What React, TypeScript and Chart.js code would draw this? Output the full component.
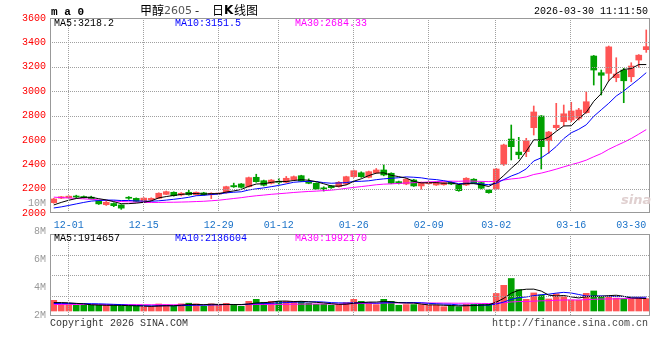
import React, { useEffect, useRef } from "react";
import { Chart, registerables } from "chart.js";

Chart.register(...registerables);

// ---------------- data ----------------
const dates = [
  "11-27","11-28","12-01","12-02","12-03","12-04","12-05","12-08","12-09","12-10",
  "12-11","12-12","12-15","12-16","12-17","12-18","12-19","12-22","12-23","12-24",
  "12-25","12-26","12-29","12-30","12-31","01-05","01-06","01-07","01-08","01-09",
  "01-12","01-13","01-14","01-15","01-16","01-19","01-20","01-21","01-22","01-23",
  "01-26","01-27","01-28","01-29","01-30","02-02","02-03","02-04","02-05","02-06",
  "02-09","02-10","02-11","02-12","02-13","02-24","02-25","02-26","02-27","03-02",
  "03-03","03-04","03-05","03-06","03-09","03-10","03-11","03-12","03-13","03-16",
  "03-17","03-18","03-19","03-20","03-23","03-24","03-25","03-26","03-27","03-30",
];

const opens = [
  2085,2122,2125,2133,2135,2130,2100,2068,2078,2066,
  2123,2120,2095,2107,2121,2153,2170,2148,2170,2150,
  2165,2150,2156,2167,2225,2238,2216,2293,2265,2244,
  2258,2252,2271,2306,2257,2244,2202,2221,2216,2238,
  2298,2330,2293,2330,2353,2326,2257,2238,2271,2222,
  2240,2230,2232,2250,2230,2230,2277,2249,2189,2197,
  2400,2607,2500,2503,2700,2796,2593,2700,2749,2763,
  2777,2823,3288,3151,3146,3110,3173,3118,3255,3340,
];
const highs = [
  2120,2136,2141,2146,2140,2138,2104,2095,2084,2068,
  2135,2124,2126,2125,2166,2180,2174,2168,2187,2173,
  2170,2166,2165,2220,2245,2242,2295,2318,2270,2275,
  2285,2300,2304,2310,2280,2248,2215,2226,2258,2302,
  2352,2338,2344,2365,2394,2330,2262,2282,2276,2254,
  2256,2254,2254,2256,2235,2290,2282,2254,2194,2366,
  2565,2722,2621,2613,2878,2800,2670,2900,2886,2908,
  2859,2995,3293,3173,3370,3274,3187,3233,3300,3502,
];
const lows = [
  2080,2118,2122,2126,2122,2114,2070,2062,2052,2030,
  2112,2092,2090,2102,2118,2150,2138,2140,2146,2146,
  2146,2118,2150,2162,2210,2205,2212,2252,2222,2238,
  2235,2248,2265,2258,2240,2192,2180,2202,2212,2232,
  2292,2292,2288,2325,2305,2240,2238,2232,2218,2195,
  2236,2226,2228,2233,2178,2225,2244,2198,2162,2192,
  2390,2435,2445,2462,2640,2361,2490,2681,2714,2749,
  2763,2818,3050,2968,3085,3077,2905,3077,3192,3318,
];
const closes = [
  2115,2133,2138,2131,2125,2118,2075,2088,2060,2040,
  2121,2095,2122,2120,2162,2175,2142,2162,2150,2170,
  2150,2162,2162,2216,2215,2211,2290,2257,2228,2270,
  2252,2285,2298,2262,2244,2197,2198,2208,2252,2298,
  2347,2298,2339,2353,2312,2244,2244,2277,2222,2249,
  2250,2249,2249,2238,2183,2285,2249,2203,2167,2361,
  2558,2544,2478,2593,2829,2544,2664,2720,2814,2837,
  2845,2913,3173,3130,3363,3140,3085,3206,3295,3365,
];
// closes of the 29 sessions before the first visible one (feed the moving averages)
const prevCloses = [
  2245,2238,2230,2236,2222,2215,2209,2200,2195,2188,2180,
  2168,2160,2148,2135,2126,2118,2105,2092,2080,
  2042,2020,2005,2003,2010,
  2030,2048,2062,2076,
];

const volumes = [
  1646000,1080000,1050000,877000,870000,880000,885000,860000,875000,800000,
  720000,725000,650000,655000,1080000,940000,720000,1100000,1200000,1100000,
  720000,1100000,950000,1180000,1030000,720000,1490000,1800000,1340000,1490000,
  1480000,1500000,1470000,1490000,1180000,1030000,1030000,880000,985000,1290000,
  1800000,1490000,1290000,985000,1800000,1490000,880000,985000,985000,985000,
  880000,880000,660000,815000,660000,1030000,1030000,1030000,1030000,2700000,
  3950000,5000000,3300000,1800000,2780000,2460000,1850000,2655000,2200000,1689060,
  1650000,2720000,3080000,2170000,2172755,1980120,1900455,1800310,2000140,1892260,
];
const prevVolumes = [
  880000,950000,900000,860000,920000,970000,930000,890000,960000,910000,
  940000,880000,990000,920000,900000,950000,930000,910000,970000,900000,
  950000,1050000,980000,1020000,1000000,
  1100000,1250000,1300000,1204000,
];

const priceTicks = [2000, 2200, 2400, 2600, 2800, 3000, 3200, 3400, 3600];
const xTickLabels = ["12-01","12-15","12-29","01-12","01-26","02-09","03-02","03-16","03-30"];
const volTickValues = [2000000, 4000000, 6000000, 8000000, 10000000];
const volTickLabels = ["2M", "4M", "6M", "8M", "10M"];

const priceLegend = ["MA5:3218.2", "MA10:3151.5", "MA30:2684.33"];
const volLegend = ["MA5:1914657", "MA10:2136604", "MA30:1992170"];

// ---------------- styling / layout ----------------
const MONO = '"Liberation Mono", "DejaVu Sans Mono", monospace';
const UP = "#ff5555";
const DOWN = "#00a000";
const GRID = "#a0a0a0";
const FRAME = "#999999";
const MA_COLORS = ["#000000", "#0000ff", "#ff00ff"];
const VOL_TOP = 234; // page y of the volume panel
const VOL_BOTTOM = 316;

function movingAvg(prev: number[], vals: number[], n: number): number[] {
  const all = prev.concat(vals);
  return vals.map((_, i) => {
    const end = prev.length + i;
    let s = 0;
    for (let k = end - n + 1; k <= end; k++) s += all[k];
    return s / n;
  });
}

const candleColors = opens.map((o, i) => (closes[i] >= o ? UP : DOWN));

function strokeFrame(ctx: any, a: any) {
  ctx.setLineDash([]);
  ctx.strokeStyle = FRAME;
  ctx.lineWidth = 1;
  const l = Math.round(a.left) + 0.5;
  const t = Math.round(a.top) + 0.5;
  const r = Math.round(a.right) - 0.5;
  const b = Math.round(a.bottom) - 0.5;
  ctx.strokeRect(l, t, r - l, b - t);
}

// main chart: dotted grid of both panels (x positions from the shared date scale), frame of the price panel
const mainPanelPlugin = {
  id: "mainPanel",
  afterDraw(chart: any) {
    const { ctx, chartArea: a } = chart;
    ctx.save();
    ctx.strokeStyle = GRID;
    ctx.lineWidth = 1;
    ctx.setLineDash([1, 1]);
    ctx.lineDashOffset = 0;
    const seg = (x1: number, y1: number, x2: number, y2: number) => {
      ctx.beginPath();
      ctx.moveTo(x1, y1);
      ctx.lineTo(x2, y2);
      ctx.stroke();
    };
    const xs = chart.scales.x;
    dates.forEach((d, i) => {
      if (xTickLabels.includes(d) && i < dates.length - 1) {
        const px = Math.round(xs.getPixelForValue(i)) - 0.5;
        seg(px, a.top, px, a.bottom);
        seg(px, VOL_TOP, px, VOL_BOTTOM);
      }
    });
    const ys = chart.scales.y;
    priceTicks.forEach((v) => {
      const py = Math.round(ys.getPixelForValue(v)) + 0.5;
      if (py > a.top + 1 && py < a.bottom - 1) seg(a.left, py, a.right, py);
    });
    for (let k = 1; k < 4; k++) {
      const py = Math.round(VOL_TOP + (k * (VOL_BOTTOM - VOL_TOP)) / 4) + 0.5;
      seg(a.left, py, a.right, py);
    }
    strokeFrame(ctx, a);
    ctx.restore();
  },
};

const volPanelPlugin = {
  id: "volPanel",
  afterDraw(chart: any) {
    const { ctx, chartArea: a } = chart;
    ctx.save();
    strokeFrame(ctx, a);
    ctx.restore();
  },
};

function xScale(showLabels: boolean) {
  return {
    type: "category",
    offset: true,
    grid: { display: false, drawTicks: false },
    border: { display: false },
    ticks: {
      display: showLabels,
      autoSkip: false,
      maxRotation: 0,
      minRotation: 0,
      align: "inner",
      padding: 6,
      color: "#1a72c8",
      font: { family: MONO, size: 10 },
      callback: (_v: any, i: number) => (xTickLabels.includes(dates[i]) ? dates[i] : ""),
    },
    afterFit: (s: any) => {
      s.paddingLeft = 0;
      s.paddingRight = 0;
      s.height = showLabels ? 22 : 0;
    },
  };
}

function lineDs(data: number[], color: string, axis: string) {
  return {
    type: "line",
    data,
    yAxisID: axis,
    borderColor: color,
    borderWidth: 1,
    pointRadius: 0,
    tension: 0,
    fill: false,
    order: 0,
  };
}

function mainConfig(): any {
  return {
    type: "bar",
    data: {
      labels: dates,
      datasets: [
        {
          type: "bar",
          data: lows.map((l, i) => [l, highs[i]]),
          yAxisID: "y",
          backgroundColor: candleColors,
          barThickness: 1,
          grouped: false,
          borderWidth: 0,
          minBarLength: 1,
          order: 2,
        },
        {
          type: "bar",
          data: opens.map((o, i) => [o, closes[i]]),
          yAxisID: "y",
          backgroundColor: candleColors,
          barThickness: 6,
          grouped: false,
          borderWidth: 0,
          minBarLength: 1,
          order: 1,
        },
        lineDs(movingAvg(prevCloses, closes, 5), MA_COLORS[0], "y"),
        lineDs(movingAvg(prevCloses, closes, 10), MA_COLORS[1], "y"),
        lineDs(movingAvg(prevCloses, closes, 30), MA_COLORS[2], "y"),
      ],
    },
    options: {
      responsive: false,
      maintainAspectRatio: false,
      animation: false,
      events: [],
      layout: { padding: { top: 18, right: 10, bottom: 125, left: 0 } },
      plugins: { legend: { display: false }, tooltip: { enabled: false } },
      scales: {
        x: xScale(true),
        y: {
          type: "linear",
          position: "left",
          min: priceTicks[0],
          max: priceTicks[priceTicks.length - 1],
          afterBuildTicks: (s: any) => {
            s.ticks = priceTicks.map((v) => ({ value: v }));
          },
          grid: { display: false, drawTicks: false },
          border: { display: false },
          ticks: {
            color: "#ff0000",
            padding: 4,
            font: { family: MONO, size: 10 },
            callback: (v: any) => String(v),
          },
          afterFit: (s: any) => {
            s.width = 50;
            s.paddingTop = 0;
            s.paddingBottom = 0;
          },
        },
      },
    },
    plugins: [mainPanelPlugin],
  };
}

function volConfig(): any {
  return {
    type: "bar",
    data: {
      labels: dates,
      datasets: [
        {
          type: "bar",
          data: volumes,
          yAxisID: "v",
          backgroundColor: candleColors,
          barThickness: 6,
          borderWidth: 0,
          order: 1,
        },
        lineDs(movingAvg(prevVolumes, volumes, 5), MA_COLORS[0], "v"),
        lineDs(movingAvg(prevVolumes, volumes, 10), MA_COLORS[1], "v"),
        lineDs(movingAvg(prevVolumes, volumes, 30), MA_COLORS[2], "v"),
      ],
    },
    options: {
      responsive: false,
      maintainAspectRatio: false,
      animation: false,
      events: [],
      layout: { padding: { top: VOL_TOP - 190, right: 10, bottom: 360 - VOL_BOTTOM, left: 0 } },
      plugins: { legend: { display: false }, tooltip: { enabled: false } },
      scales: {
        x: xScale(false),
        v: {
          type: "linear",
          axis: "y",
          position: "left",
          weight: 0,
          min: -770000,
          max: 11850000,
          grid: { display: false, drawTicks: false },
          border: { display: false },
          ticks: { display: false },
          afterFit: (s: any) => {
            s.width = 0;
            s.paddingTop = 0;
            s.paddingBottom = 0;
          },
        },
        vl: {
          type: "linear",
          axis: "y",
          position: "left",
          weight: 1,
          min: 1929000,
          max: 7786000,
          afterBuildTicks: (s: any) => {
            s.ticks = volTickValues.map((v) => ({ value: v }));
          },
          grid: { display: false, drawTicks: false },
          border: { display: false },
          ticks: {
            autoSkip: false,
            color: "#999999",
            padding: 4,
            font: { family: MONO, size: 10 },
            callback: (v: any) => volTickLabels[volTickValues.indexOf(v)] ?? "",
          },
          afterFit: (s: any) => {
            s.width = 50;
            s.paddingTop = 0;
            s.paddingBottom = 0;
          },
        },
      },
    },
    plugins: [volPanelPlugin],
  };
}

// ---------------- component ----------------
function T(props: { x?: number; r?: number; y: number; color?: string; size?: number; bold?: boolean; family?: string; italic?: boolean; children: any }) {
  const style: any = {
    position: "absolute",
    top: props.y,
    whiteSpace: "pre",
    fontFamily: props.family ?? MONO,
    fontSize: props.size ?? 10,
    lineHeight: "12px",
    color: props.color ?? "#000",
    fontWeight: props.bold ? "bold" : "normal",
    fontStyle: props.italic ? "italic" : "normal",
    pointerEvents: "none",
  };
  if (props.r !== undefined) style.right = props.r;
  else style.left = props.x;
  return <div style={style}>{props.children}</div>;
}

export default function App() {
  const mainRef = useRef<HTMLCanvasElement>(null);
  const volRef = useRef<HTMLCanvasElement>(null);

  useEffect(() => {
    const vol = new Chart(volRef.current as HTMLCanvasElement, volConfig());
    const main = new Chart(mainRef.current as HTMLCanvasElement, mainConfig());
    return () => {
      main.destroy();
      vol.destroy();
    };
  }, []);

  const CJK = '"Noto Sans CJK SC", sans-serif';
  const legendX = [54, 175, 295];

  return (
    <div
      style={{
        position: "fixed",
        left: 0,
        top: 0,
        width: 660,
        height: 360,
        background: "#ffffff",
        overflow: "hidden",
      }}
    >
      <canvas ref={volRef} width={660} height={170} style={{ position: "absolute", left: 0, top: 190 }} />
      <canvas ref={mainRef} width={660} height={360} style={{ position: "absolute", left: 0, top: 0 }} />

      <T x={51} y={6} size={11} bold>m a 0</T>
      <T x={140} y={4} size={12} family={CJK}>甲醇</T>
      <T x={164} y={5} size={11} family='"DejaVu Sans", sans-serif' color="#555">2605</T>
      <T x={195} y={4} size={12} family={CJK}>-</T>
      <T x={212} y={4} size={12} family={CJK}>日</T>
      <T x={224} y={4} size={12} bold family='"DejaVu Sans", sans-serif'>K</T>
      <T x={234} y={4} size={12} family={CJK}>线图</T>
      <T r={12} y={6} size={10}>2026-03-30 11:11:50</T>

      {priceLegend.map((s, i) => (
        <T key={"p" + i} x={legendX[i]} y={18} color={MA_COLORS[i]}>{s}</T>
      ))}
      {volLegend.map((s, i) => (
        <T key={"v" + i} x={legendX[i]} y={233} color={MA_COLORS[i]}>{s}</T>
      ))}

      <T x={621} y={194} size={13} bold italic family='"DejaVu Sans", sans-serif' color="#e0d0d0">sina</T>

      <T x={50} y={318} color="#333">Copyright 2026 SINA.COM</T>
      <T r={12} y={318} color="#444">http://finance.sina.com.cn</T>
    </div>
  );
}
